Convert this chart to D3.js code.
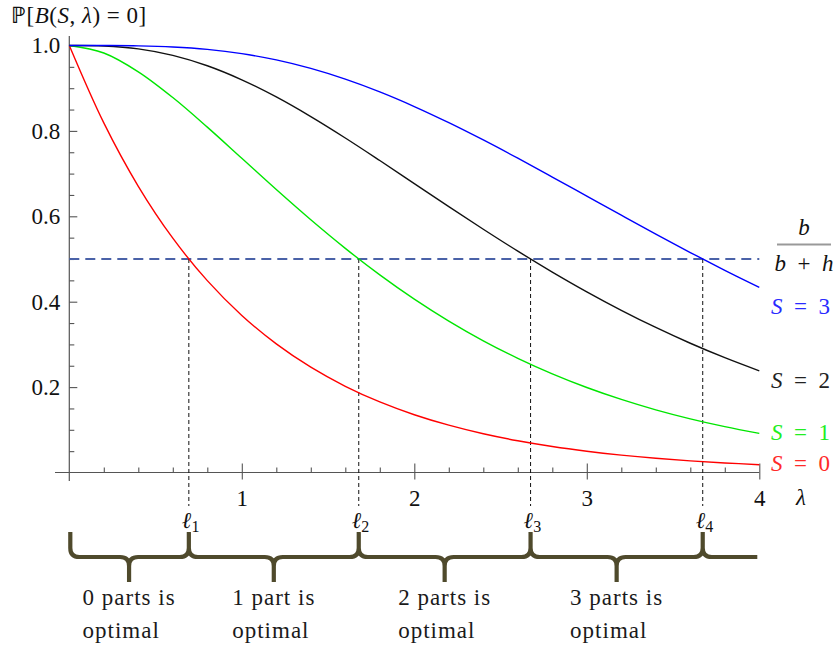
<!DOCTYPE html>
<html>
<head>
<meta charset="utf-8">
<script src="https://cdn.jsdelivr.net/npm/d3@7"></script>
<style>
body { margin: 0; background: #fff; }
svg text { font-family: "Liberation Serif", "Times New Roman", Tinos, "Noto Serif", "DejaVu Serif", FreeSerif, serif; }
</style>
</head>
<body>
<div id="chart"></div>
<script>
// data: P[B(S,lambda)=0]
var lambda = [0, 0.2, 0.4, 0.6, 0.8, 1.0, 1.2, 1.4, 1.6, 1.8, 2.0, 2.2, 2.4, 2.6, 2.8, 3.0, 3.2, 3.4, 3.6, 3.8, 4.0];
var s0 = [1, 0.8187, 0.6703, 0.5488, 0.4493, 0.3679, 0.3012, 0.2466, 0.2019, 0.1653, 0.1353, 0.1108, 0.0907, 0.0743, 0.0608, 0.0498, 0.0408, 0.0334, 0.0273, 0.0224, 0.0183];
var s1 = [1, 0.9825, 0.9384, 0.8781, 0.8088, 0.7358, 0.6626, 0.5918, 0.5249, 0.4628, 0.4060, 0.3546, 0.3084, 0.2674, 0.2311, 0.1991, 0.1712, 0.1468, 0.1257, 0.1074, 0.0916];
var s2 = [1, 0.9989, 0.9921, 0.9769, 0.9526, 0.9197, 0.8795, 0.8335, 0.7834, 0.7306, 0.6767, 0.6227, 0.5697, 0.5184, 0.4695, 0.4232, 0.3799, 0.3397, 0.3027, 0.2689, 0.2381];
var s3 = [1, 0.9999, 0.9992, 0.9966, 0.9909, 0.9810, 0.9662, 0.9463, 0.9212, 0.8913, 0.8571, 0.8193, 0.7787, 0.7360, 0.6919, 0.6472, 0.6025, 0.5583, 0.5152, 0.4735, 0.4335];
var seriesNames = ["S = 0", "S = 1", "S = 2", "S = 3"];
var threshold = 0.5;
var ells = [0.693, 1.678, 2.674, 3.672];
var xTicks = [1, 2, 3, 4];
var yTicks = [0.2, 0.4, 0.6, 0.8, 1.0];
var regionTop = ["0 parts is", "1 part is", "2 parts is", "3 parts is"];
var regionBottom = ["optimal", "optimal", "optimal", "optimal"];

var width = 833, height = 650;
var colors = ["#ff0000", "#00e600", "#111111", "#0000ff"];
var labelColors = ["#ff2a2a", "#22ee22", "#222222", "#2a2aff"];
var fs = 23;

var svg = d3.select("#chart").append("svg")
    .attr("width", width)
    .attr("height", height);

var x = d3.scaleLinear().domain([0, 4]).range([69.3, 759.3]);
var y = d3.scaleLinear().domain([0, 1]).range([472.5, 45.5]);

// axes
var axisColor = "#555";
svg.append("line")
    .attr("x1", 55).attr("x2", x(4))
    .attr("y1", y(0)).attr("y2", y(0))
    .attr("stroke", axisColor).attr("stroke-width", 1.2);
svg.append("line")
    .attr("x1", x(0)).attr("x2", x(0))
    .attr("y1", 36).attr("y2", 481)
    .attr("stroke", axisColor).attr("stroke-width", 1.2);

var xMinor = d3.range(0.2, 4, 0.2).filter(function(d){ return Math.abs(d - Math.round(d)) > 0.01; });
var yMinor = d3.range(0.05, 1, 0.05).filter(function(d){ return Math.abs(d * 5 - Math.round(d * 5)) > 0.01; });

var xMinorG = svg.append("g").attr("transform", "translate(0," + y(0) + ")")
    .call(d3.axisBottom(x).tickValues(xMinor).tickSize(-5).tickFormat(""));
var xMajorG = svg.append("g").attr("transform", "translate(0," + y(0) + ")")
    .call(d3.axisBottom(x).tickValues(xTicks).tickSize(-9).tickPadding(17).tickFormat(d3.format("d")));
xMajorG.selectAll(".tick line").attr("y1", 7);

var yMinorG = svg.append("g").attr("transform", "translate(" + x(0) + ",0)")
    .call(d3.axisLeft(y).tickValues(yMinor).tickSize(-5).tickFormat(""));
var yMajorG = svg.append("g").attr("transform", "translate(" + x(0) + ",0)")
    .call(d3.axisLeft(y).tickValues(yTicks).tickSize(-8).tickPadding(9).tickFormat(d3.format(".1f")));

svg.selectAll(".domain").remove();
svg.selectAll("g").attr("font-family", null);
svg.selectAll(".tick line").attr("stroke", axisColor).attr("stroke-width", 1.1);
svg.selectAll(".tick text").attr("font-size", fs).attr("fill", "#111");

// axis name
svg.append("text").attr("x", 801).attr("y", y(0) + 32)
    .attr("text-anchor", "middle").attr("font-size", fs).attr("font-style", "italic").attr("fill", "#111")
    .text("λ");

// title
var title = svg.append("text").attr("x", 11).attr("y", 23).attr("font-size", fs).attr("fill", "#111")
    .attr("letter-spacing", 0.5);
title.append("tspan").text("ℙ[");
title.append("tspan").attr("font-style", "italic").text("B");
title.append("tspan").text("(");
title.append("tspan").attr("font-style", "italic").text("S");
title.append("tspan").text(", ");
title.append("tspan").attr("font-style", "italic").text("λ");
title.append("tspan").text(") = 0]");

// threshold line
svg.append("line")
    .attr("x1", x(0)).attr("x2", x(4))
    .attr("y1", y(threshold)).attr("y2", y(threshold))
    .attr("stroke", "#4a62a8").attr("stroke-width", 2)
    .attr("stroke-dasharray", "10,6");

// vertical dashed lines at crossings
svg.selectAll(".ell-line").data(ells).enter().append("line")
    .attr("class", "ell-line")
    .attr("x1", function(d){ return x(d); }).attr("x2", function(d){ return x(d); })
    .attr("y1", y(threshold)).attr("y2", 506)
    .attr("stroke", "#111").attr("stroke-width", 1)
    .attr("stroke-dasharray", "4,3");

// curves
var series = [s0, s1, s2, s3];
var line = d3.line()
    .x(function(d, i){ return x(lambda[i]); })
    .y(function(d){ return y(d); })
    .curve(d3.curveCatmullRom.alpha(0.5));

svg.selectAll(".curve").data(series).enter().append("path")
    .attr("class", "curve")
    .attr("d", line)
    .attr("fill", "none")
    .attr("stroke", function(d, i){ return colors[i]; })
    .attr("stroke-width", 1.4);

// series labels
var labelY = [463, 432, 380, 306];
series.forEach(function(s, i){
    var t = svg.append("text").attr("x", 771).attr("y", labelY[i]).attr("dy", "0.35em")
        .attr("font-size", fs).attr("fill", labelColors[i]);
    t.append("tspan").attr("font-style", "italic").text("S");
    t.append("tspan").text(seriesNames[i].slice(1).replace(/ /g, "\u2002"));
});

// fraction b / (b + h)
svg.append("line").attr("x1", 777).attr("x2", 831).attr("y1", 244.5).attr("y2", 244.5)
    .attr("stroke", "#999").attr("stroke-width", 2);
svg.append("text").attr("x", 804).attr("y", 235).attr("text-anchor", "middle")
    .attr("font-size", fs).attr("font-style", "italic").attr("fill", "#111").text("b");
var den = svg.append("text").attr("x", 804).attr("y", 271).attr("text-anchor", "middle")
    .attr("font-size", fs).attr("fill", "#111");
den.append("tspan").attr("font-style", "italic").text("b");
den.append("tspan").text("\u2002+\u2002");
den.append("tspan").attr("font-style", "italic").text("h");

// ell labels
ells.forEach(function(d, i){
    var t = svg.append("text").attr("x", x(d) - 7).attr("y", 528)
        .attr("font-size", fs).attr("fill", "#111");
    t.append("tspan").attr("font-style", "italic").text("ℓ");
    t.append("tspan").attr("font-size", 16).attr("dy", 4).text(String(i + 1));
});

// braces
var by = 557, up = 532, down = 582, r = 9;
var x0 = x(0) + 1;
var stops = [0].concat(ells);
var p = "M" + x0 + "," + up + "V" + (by - r) + "Q" + x0 + "," + by + " " + (x0 + r) + "," + by;
var tips = "";
for (var i = 0; i < ells.length; i++) {
    var a = x(stops[i]), b = x(stops[i + 1]), m = (a + b) / 2;
    p += "H" + (m - r) + "Q" + m + "," + by + " " + m + "," + (by + r)
       + "Q" + m + "," + by + " " + (m + r) + "," + by
       + "H" + (b - r) + "Q" + b + "," + by + " " + b + "," + (by - r)
       + "Q" + b + "," + by + " " + (b + r) + "," + by;
    tips += "M" + m + "," + (by + r) + "V" + down + "M" + b + "," + (by - r) + "V" + up;
}
p += "H" + (x(4) - 2);
svg.append("path").attr("d", p + tips)
    .attr("fill", "none").attr("stroke", "#4f4a2c").attr("stroke-width", 4.2)
    .attr("stroke-linecap", "butt");

// region labels
for (var j = 0; j < regionTop.length; j++) {
    var mid = (x(stops[j]) + x(stops[j + 1])) / 2;
    var t1 = svg.append("text").attr("x", mid).attr("y", 605).attr("text-anchor", "middle")
        .attr("font-size", fs).attr("letter-spacing", 1).attr("fill", "#1a1a1a").text(regionTop[j]);
    var w = t1.node().getComputedTextLength();
    svg.append("text").attr("x", mid - w / 2).attr("y", 638)
        .attr("font-size", fs).attr("letter-spacing", 1).attr("fill", "#1a1a1a").text(regionBottom[j]);
}
</script>
</body>
</html>
